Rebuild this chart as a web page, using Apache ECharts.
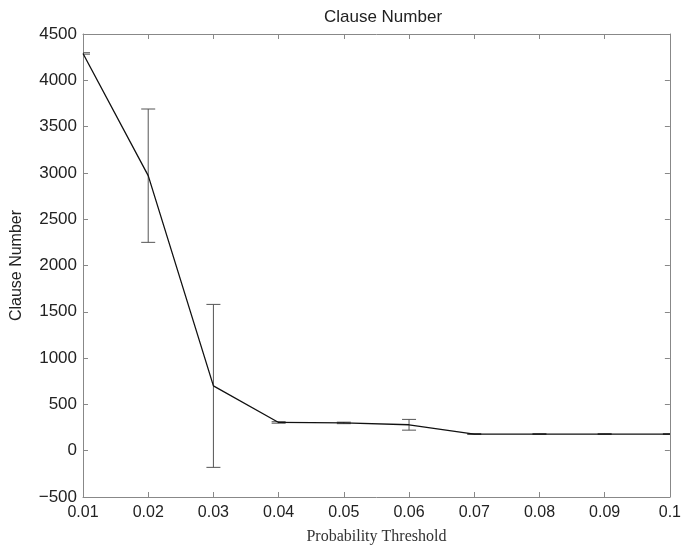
<!DOCTYPE html>
<html><head><meta charset="utf-8">
<script src="https://cdn.jsdelivr.net/npm/echarts@6/dist/echarts.min.js"></script>
<style>html,body{margin:0;padding:0;background:#fff}#c{width:684px;height:550px}</style>
</head><body><div id="c"></div>
<script>
const thresholds = ['0.01','0.02','0.03','0.04','0.05','0.06','0.07','0.08','0.09','0.1'];
const clauseMean = [4290, 2970, 700, 305, 300, 280, 180, 180, 180, 180];
const clauseErr  = [8, 720, 880, 8, 8, 58, 5, 5, 5, 5];
const yTicks = [-500, 4500, 500];

const errData = thresholds.map((t, i) => [i, clauseMean[i] - clauseErr[i], clauseMean[i] + clauseErr[i]]);
const axisCol = '#888';
const chart = echarts.init(document.getElementById('c'));
chart.setOption({
  animation: false,
  backgroundColor: '#fff',
  title: {text: 'Clause Number', left: 378, top: 4, textAlign: 'center',
    textStyle: {fontFamily: 'Liberation Sans, Arial', fontSize: 17, fontWeight: 'normal', color: '#222'}},
  grid: {left: 83, right: 12, top: 34, bottom: 51},
  xAxis: [{
    type: 'category', data: thresholds, boundaryGap: false,
    name: 'Probability Threshold', nameLocation: 'middle', nameGap: 32,
    nameTextStyle: {fontFamily: 'Liberation Serif, Times New Roman', fontSize: 16, color: '#333'},
    axisLine: {onZero: false, lineStyle: {color: axisCol}},
    axisTick: {inside: true, length: 5, lineStyle: {color: axisCol}},
    axisLabel: {fontFamily: 'Liberation Sans, Arial', fontSize: 16, color: '#222', margin: 8},
    splitLine: {show: false}
  }, {
    type: 'category', data: thresholds, boundaryGap: false, position: 'top',
    axisLine: {onZero: false, lineStyle: {color: axisCol}},
    axisTick: {inside: true, length: 5, lineStyle: {color: axisCol}},
    axisLabel: {show: false}, splitLine: {show: false}
  }],
  yAxis: [{
    type: 'value', min: yTicks[0], max: yTicks[1], interval: yTicks[2],
    name: 'Clause Number', nameLocation: 'middle', nameGap: 58,
    nameTextStyle: {fontFamily: 'Liberation Sans, Arial', fontSize: 16, color: '#222'},
    axisLine: {show: true, onZero: false, lineStyle: {color: axisCol}},
    axisTick: {show: true, inside: true, length: 5, lineStyle: {color: axisCol}},
    axisLabel: {fontFamily: 'Liberation Sans, Arial', fontSize: 17, color: '#222', margin: 6,
      formatter: v => String(v).replace('-', '\u2212')},
    splitLine: {show: false}
  }, {
    type: 'value', min: yTicks[0], max: yTicks[1], interval: yTicks[2], position: 'right',
    axisLine: {show: true, onZero: false, lineStyle: {color: axisCol}},
    axisTick: {show: true, inside: true, length: 5, lineStyle: {color: axisCol}},
    axisLabel: {show: false}, splitLine: {show: false}
  }],
  series: [{
    type: 'custom', xAxisIndex: 0, yAxisIndex: 0, data: errData, z: 1, clip: true,
    renderItem: function (params, api) {
      const x = api.value(0);
      const lo = api.coord([x, api.value(1)]);
      const hi = api.coord([x, api.value(2)]);
      const w = 7;
      const st = {stroke: '#555', lineWidth: 1, fill: null};
      return {type: 'group', children: [
        {type: 'line', shape: {x1: lo[0], y1: lo[1], x2: hi[0], y2: hi[1]}, style: st},
        {type: 'line', shape: {x1: lo[0] - w, y1: lo[1], x2: lo[0] + w, y2: lo[1]}, style: st},
        {type: 'line', shape: {x1: hi[0] - w, y1: hi[1], x2: hi[0] + w, y2: hi[1]}, style: st}
      ]};
    }
  }, {
    type: 'line', data: clauseMean, xAxisIndex: 0, yAxisIndex: 0, z: 2,
    showSymbol: false, symbol: 'none',
    lineStyle: {color: '#111', width: 1.3}
  }]
});
</script></body></html>
